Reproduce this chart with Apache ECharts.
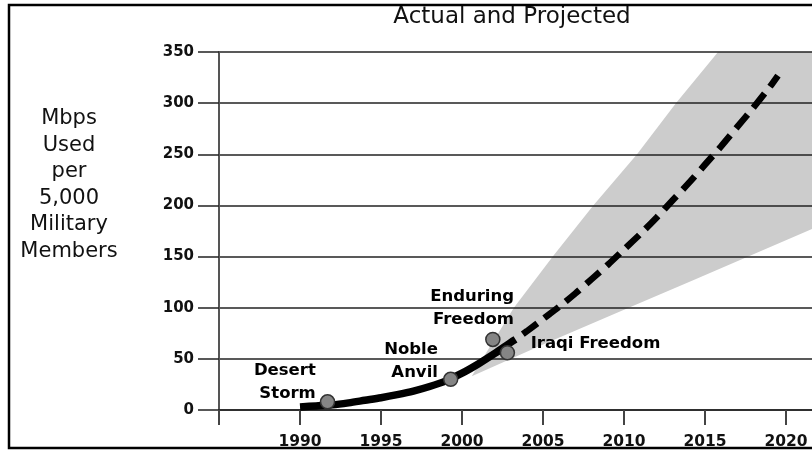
<!DOCTYPE html>
<html>
<head>
<meta charset="utf-8">
<script src="https://cdn.jsdelivr.net/npm/echarts@6/dist/echarts.min.js"></script>
<style>html,body{margin:0;padding:0;background:#fff;overflow:hidden}#c{width:812px;height:451px}</style>
</head>
<body>
<div id="c"></div>
<script>
// ---- data ----
var titleText = 'Actual and Projected';
var yAxisTitle = 'Mbps\nUsed\nper\n5,000\nMilitary\nMembers';
var yTicks = [0, 50, 100, 150, 200, 250, 300, 350];
var xTickValues = [1985, 1990, 1995, 2000, 2005, 2010, 2015, 2020];
var xTickYears = [1990, 1995, 2000, 2005, 2010, 2015, 2020];

// actual (solid) trend
var actualYears  = [1990, 1991, 1992, 1993, 1994, 1995, 1996, 1997, 1998, 1999, 2000, 2001, 2002, 2003, 2003.3];
var actualValues = [3, 4, 5, 7, 9.5, 12, 15, 18.5, 23, 28.5, 36, 45, 55, 66, 69];

// projected (dashed) trend
var projYears  = [2003.3, 2004, 2005, 2006, 2007, 2008, 2009, 2010, 2011, 2012, 2013, 2014, 2015, 2016, 2017, 2018, 2019, 2019.5];
var projValues = [69, 77, 89, 101, 114, 128, 142, 157, 172, 188, 205, 222, 240, 258, 277, 296, 316, 327];

// uncertainty band
var bandUpperYears  = [2000.6, 2003.2, 2005.6, 2008.1, 2010.8, 2013.2, 2015.8, 2021.6];
var bandUpperValues = [33, 100, 150, 200, 250, 300, 350, 350];
var bandLowerYears  = [2000.6, 2005, 2010, 2014.3, 2021.6];
var bandLowerValues = [33, 64, 98, 127, 177];

// operations
var opNames  = ['Desert\nStorm', 'Noble\nAnvil', 'Enduring\nFreedom', 'Iraqi Freedom'];
var opYears  = [1991.7, 1999.3, 2001.9, 2002.8];
var opValues = [8, 30, 69, 56];

// ---- build ----
function pairs(xs, ys) { return xs.map(function (x, i) { return [x, ys[i]]; }); }
var bandPoly = pairs(bandUpperYears, bandUpperValues).concat(pairs(bandLowerYears, bandLowerValues).reverse());

var labelPos = [
  { position: [-4, -11.5], align: 'right' },
  { position: [-5, -10.5], align: 'right' },
  { position: [29, -23.5], align: 'right' },
  { position: [31, -1], align: 'left' }
];
var opData = opYears.map(function (y, i) {
  return {
    value: [y, opValues[i]],
    label: {
      show: true, formatter: opNames[i],
      position: labelPos[i].position, align: labelPos[i].align, verticalAlign: 'middle'
    }
  };
});

var chart = echarts.init(document.getElementById('c'), null, { renderer: 'canvas' });
chart.setOption({
  animation: false,
  backgroundColor: '#fff',
  grid: { left: 219, top: 52, bottom: 41, width: 600, containLabel: false },
  xAxis: {
    type: 'value', min: 1985, max: 2021.6,
    axisLine: { show: true, lineStyle: { color: '#222', width: 1.5 } },
    axisTick: { show: true, length: 15, customValues: xTickValues, lineStyle: { color: '#444', width: 2 } },
    axisLabel: {
      margin: 24, color: '#111', fontFamily: 'DejaVu Sans', fontWeight: 'bold', fontSize: 15.5,
      customValues: xTickYears,
      formatter: function (v) { return String(v); }
    },
    splitLine: { show: false }
  },
  yAxis: {
    type: 'value', min: 0, max: 350, interval: 50,
    axisLine: { show: true, lineStyle: { color: '#555', width: 2 } },
    axisTick: { show: true, length: 21, lineStyle: { color: '#222', width: 1.5 } },
    axisLabel: {
      margin: 25, color: '#111', fontFamily: 'DejaVu Sans', fontWeight: 'bold', fontSize: 15,
      formatter: function (v) { return yTicks.indexOf(v) >= 0 ? String(v) : ''; }
    },
    splitLine: { show: true, lineStyle: { color: '#222', width: 1.5 } }
  },
  graphic: [
    { type: 'text', z: 100, style: { text: titleText, x: 512, y: 17.5, align: 'center', verticalAlign: 'middle',
      font: '23px "DejaVu Sans"', fill: '#111' } },
    { type: 'text', z: 100, style: { text: yAxisTitle, x: 69, y: 185, align: 'center', verticalAlign: 'middle',
      font: '21px "DejaVu Sans"', lineHeight: 26.5, fill: '#111' } },
    { type: 'rect', z: 100, shape: { x: 9, y: 5, width: 900, height: 443 },
      style: { fill: 'none', stroke: '#000', lineWidth: 2.5 } }
  ],
  series: [
    {
      type: 'custom', z: -1, silent: true,
      data: bandPoly,
      renderItem: function (params, api) {
        if (params.dataIndex !== 0) return null;
        var pts = bandPoly.map(function (p) { return api.coord(p); });
        return { type: 'polygon', shape: { points: pts }, style: { fill: '#cccccc' } };
      }
    },
    {
      type: 'line', data: pairs(actualYears, actualValues), smooth: 0.3,
      showSymbol: false, z: 3,
      lineStyle: { color: '#000', width: 7.5, cap: 'butt' }
    },
    {
      type: 'line', data: pairs(projYears, projValues), smooth: 0.3,
      showSymbol: false, z: 3,
      lineStyle: { color: '#000', width: 6.5, type: [18, 9], dashOffset: 18, cap: 'butt' }
    },
    {
      type: 'scatter', data: opData, symbolSize: 14, z: 4,
      itemStyle: { color: '#858585', borderColor: '#333', borderWidth: 1.5, opacity: 1 },
      label: {
        show: true, color: '#000', opacity: 1, textBorderWidth: 0,
        fontFamily: 'DejaVu Sans', fontWeight: 'bold', fontSize: 16.5, lineHeight: 23
      },
      emphasis: { disabled: true }
    }
  ]
});
</script>
</body>
</html>
